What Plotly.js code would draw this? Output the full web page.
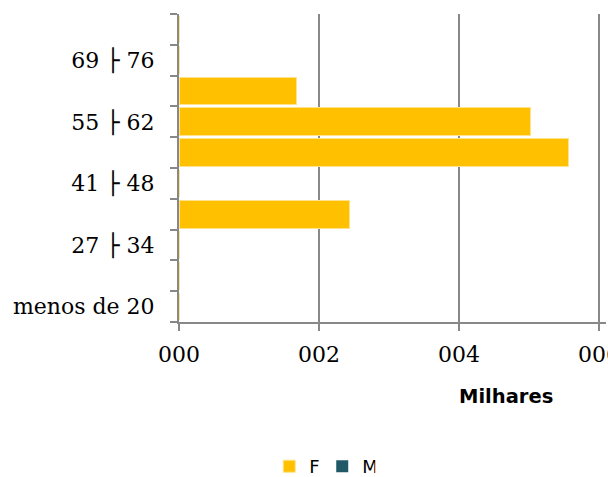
<!DOCTYPE html>
<html>
<head>
<meta charset="utf-8">
<script src="https://cdn.plot.ly/plotly-3.0.1.min.js"></script>
<style>
  html, body { margin: 0; padding: 0; background: #fff; }
  #chart { width: 608px; height: 477px; }
</style>
</head>
<body>
<div id="chart"></div>
<script>
// faixas etarias (de baixo para cima)
const faixas = [
  "menos de 20",
  "20├27",
  "27├34",
  "34├41",
  "41├48",
  "48├55",
  "55├62",
  "62├69",
  "69├76",
  "76├83",
];
// valores em milhares
const valoresF = [0, 0, 0, 2.43, 0, 5.57, 5.02, 1.68, 0, 0];
const valoresM = [0, 0, 0, 0, 0, 0, 0, 0, 0, 0];
const xTicks = [0, 2, 4, 6];
const xTickText = ["000", "002", "004", "006"];

function plotFaixas() {
  const traceF = {
    y: faixas,
    x: valoresF,
    name: "F",
    type: "bar",
    orientation: "h",
    marker: { color: "#FFC000", line: { color: "#FFE38C", width: 1 } },
  };
  const traceM = {
    y: faixas,
    x: valoresM,
    name: "M",
    type: "bar",
    orientation: "h",
    marker: { color: "#215868" },
  };

  const layout = {
    width: 608,
    height: 477,
    paper_bgcolor: "#fff",
    plot_bgcolor: "#fff",
    barmode: "stack",
    bargap: 0.1,
    margin: { l: 179, r: 2, t: 14, b: 155, pad: 0 },
    font: { family: "DejaVu Serif", size: 22, color: "#000" },
    xaxis: {
      range: [0, 6.1],
      tickvals: xTicks,
      ticktext: xTickText,
      showgrid: true,
      gridcolor: "#888",
      gridwidth: 1.5,
      showline: true,
      linecolor: "#888",
      linewidth: 2,
      ticks: "outside",
      ticklen: 7,
      tickwidth: 2,
      tickcolor: "#888",
      ticklabelstandoff: 5,
      ticklabeloverflow: "allow",
      zeroline: false,
      fixedrange: true,
    },
    yaxis: {
      type: "category",
      categoryorder: "array",
      categoryarray: faixas,
      tickvals: faixas,
      ticktext: faixas.map((f, i) => (i % 2 === 0 ? f.replace("├", " ├ ") : "")),
      tickson: "boundaries",
      ticks: "outside",
      ticklen: 7,
      tickwidth: 2,
      tickcolor: "#888",
      ticklabelstandoff: 18,
      showline: true,
      linecolor: "#888",
      linewidth: 2,
      showgrid: false,
      fixedrange: true,
    },
    annotations: [
      {
        text: "<b>Milhares</b>",
        xref: "paper",
        yref: "paper",
        x: 0.765,
        y: -0.243,
        xanchor: "center",
        yanchor: "middle",
        showarrow: false,
        font: { family: "DejaVu Sans", size: 19.5, color: "#000" },
      },
    ],
    showlegend: true,
    legend: {
      orientation: "h",
      xref: "container",
      yref: "container",
      x: 0.53,
      y: 0.022,
      xanchor: "center",
      yanchor: "middle",
      entrywidth: 8,
      font: { family: "DejaVu Sans", size: 18, color: "#000" },
      traceorder: "normal",
    },
  };

  Plotly.newPlot("chart", [traceF, traceM], layout, { staticPlot: true });
}

plotFaixas();
</script>
</body>
</html>
